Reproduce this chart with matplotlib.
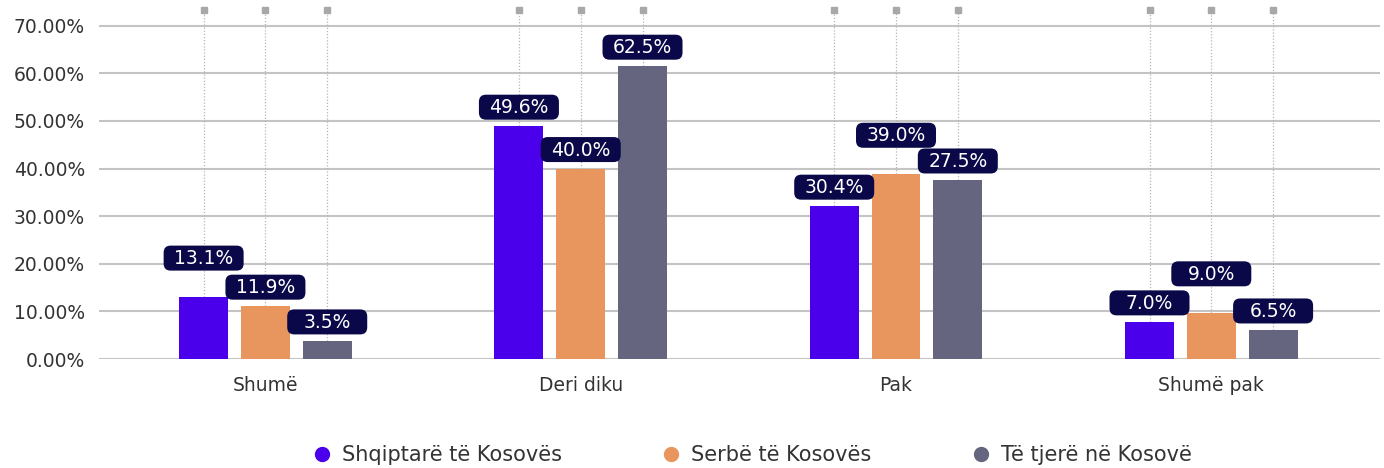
import matplotlib
matplotlib.use("Agg")
import matplotlib.pyplot as plt
import matplotlib.transforms as mtransforms
from matplotlib.patches import FancyBboxPatch
from matplotlib.lines import Line2D
import numpy as np

plt.rcParams['font.family'] = ['DejaVu Sans']

categories = ["Shumë", "Deri diku", "Pak", "Shumë pak"]
series_names = ["Shqiptarë të Kosovës", "Serbë të Kosovës", "Të tjerë në Kosovë"]
albanians = [13.0, 48.9, 32.1, 7.8]
serbs = [11.1, 40.0, 38.8, 9.7]
others = [3.8, 61.5, 37.6, 6.1]
albanians_labels = ["13.1%", "49.6%", "30.4%", "7.0%"]
serbs_labels = ["11.9%", "40.0%", "39.0%", "9.0%"]
others_labels = ["3.5%", "62.5%", "27.5%", "6.5%"]
y_ticks = [0, 10, 20, 30, 40, 50, 60, 70]
y_tick_labels = ["0.00%", "10.00%", "20.00%", "30.00%", "40.00%", "50.00%", "60.00%", "70.00%"]

colors = ["#4a00ea", "#e8965d", "#65657f"]
box_color = "#0a0848"
# extra lift of some labels (to avoid overlap), per series per category
lift = [[1, 0, 0, 0], [0, 0, 1, 1], [0, 0, 0, 0]]

values = [albanians, serbs, others]
labels = [albanians_labels, serbs_labels, others_labels]

fig = plt.figure(figsize=(13.84, 4.68), dpi=100)
ax = fig.add_axes([0.0715, 0.2329, 0.9256, 0.7457])

x = np.arange(len(categories))
step = 0.196
width = 0.155
ymax = 73.3
ax.set_ylim(0, ymax)
ax.set_xlim(-0.528, 3.535)

for i, (vals, labs, col) in enumerate(zip(values, labels, colors)):
    xs = x + (i - 1) * step
    ax.bar(xs, vals, width=width, color=col, zorder=3, label=series_names[i])
    for xi, v, lab, lf in zip(xs, vals, labs, lift[i]):
        ax.plot([xi, xi], [v, ymax], ls=(0, (1, 1.5)), color="#b5b5b5", lw=0.9, zorder=1)
        ax.plot([xi], [ymax], marker="s", ms=4.5, color="#a8a8a8", clip_on=False, zorder=2)
        off = 0.19 + lf * 0.20  # inches
        trans = fig.dpi_scale_trans + mtransforms.ScaledTranslation(xi, v, ax.transData)
        box = FancyBboxPatch((-0.40, off - 0.125), 0.80, 0.25,
                             boxstyle="round,pad=0,rounding_size=0.07",
                             fc=box_color, ec="none", transform=trans, zorder=5, clip_on=False)
        ax.add_patch(box)
        ax.annotate(lab, (xi, v), xytext=(0, off * 72 - 0.5), textcoords="offset points",
                    ha="center", va="center", color="white", fontsize=13.5, zorder=6)

ax.set_yticks(y_ticks)
ax.set_yticklabels(y_tick_labels)
ax.set_xticks(x)
ax.set_xticklabels(categories)
ax.tick_params(axis="both", length=0, labelsize=13.5, labelcolor="#333333")
ax.tick_params(axis="y", pad=10)
ax.tick_params(axis="x", pad=12)
ax.yaxis.grid(True, color="#c4c4c4", lw=1.5, zorder=0)
ax.set_axisbelow(True)
for s in ax.spines.values():
    s.set_visible(False)

handles = [Line2D([], [], marker="o", ls="none", ms=10, color=c) for c in colors]
fig.legend(handles, series_names, loc="center", bbox_to_anchor=(0.542, 0.028), ncol=3,
           frameon=False, fontsize=15, handlelength=1.3, handletextpad=0.3,
           columnspacing=4.6, labelcolor="#333333")

fig.savefig("out.png", dpi=100)
